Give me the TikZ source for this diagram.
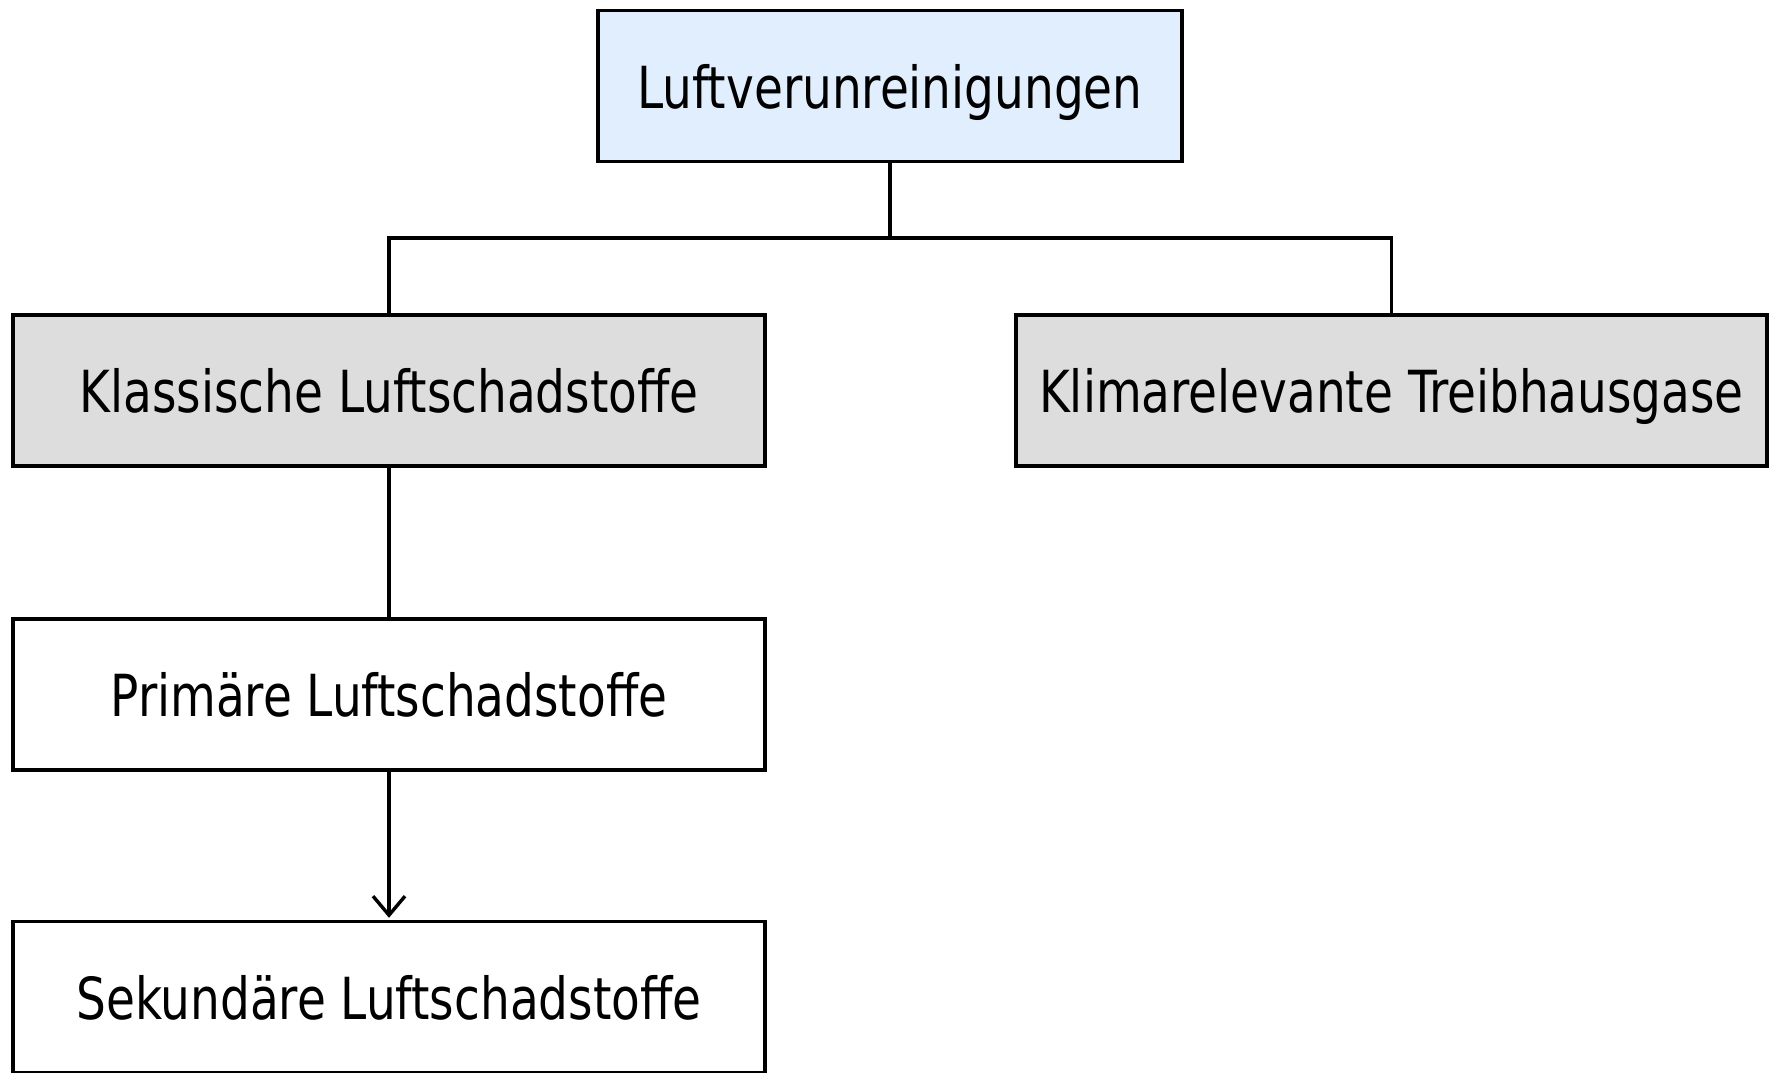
\documentclass[tikz,border=0pt]{standalone}
\usepackage{fontspec}
\setmainfont[FakeStretch=0.9]{DejaVu Sans Condensed}
\usetikzlibrary{arrows.meta}
\definecolor{topfill}{HTML}{E0EEFE}
\definecolor{grayfill}{HTML}{DDDDDD}
\begin{document}
\begin{tikzpicture}[x=1pt,y=1pt,
  box/.style={draw=black,line width=3.4pt,minimum width=#1,minimum height=151pt,inner sep=0pt,
    text height=45pt,text depth=0pt,font=\fontsize{58}{62}\selectfont},
  conn/.style={line width=3.4pt}]
\useasboundingbox (0,0) rectangle (1769,1073);
\node[box=584pt,fill=topfill] (top) at (890,987) {Luftverunreinigungen};
\node[box=752pt,fill=grayfill] (kl) at (389,682.5) {Klassische Luftschadstoffe};
\node[box=751pt,fill=grayfill] (kr) at (1391.5,682.5) {Klimarelevante Treibhausgase};
\node[box=752pt,fill=white] (pr) at (389,378.5) {Primäre Luftschadstoffe};
\node[box=752pt,fill=white] (se) at (389,76) {Sekundäre Luftschadstoffe};
\coordinate (j) at (890,835);
\draw[conn] (top.south) -- (j);
\draw[conn] (kl.north) |- (j) -| (kr.north);
\draw[conn] (kl.south) -- (pr.north);
\draw[conn,-{Straight Barb[length=19pt,width=32pt,line width=3.4pt]}] (pr.south) -- ([yshift=2pt]se.north);
\end{tikzpicture}
\end{document}
